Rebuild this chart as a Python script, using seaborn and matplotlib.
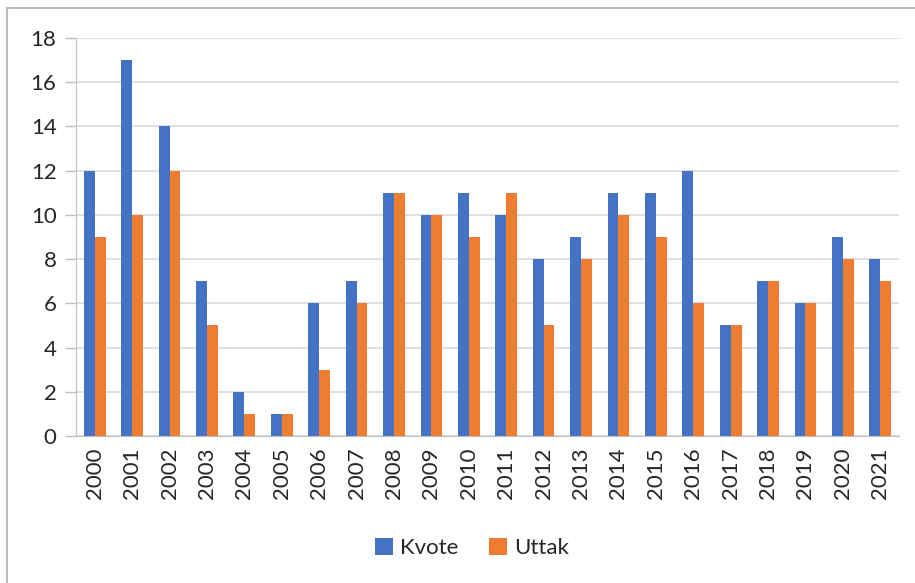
import numpy as np
import pandas as pd
import seaborn as sns
import matplotlib.pyplot as plt
from matplotlib.patches import Rectangle

years = [str(y) for y in range(2000, 2022)]
kvote = [12, 17, 14, 7, 2, 1, 6, 7, 11, 10, 11, 10, 8, 9, 11, 11, 12, 5, 7, 6, 9, 8]
uttak = [9, 10, 12, 5, 1, 1, 3, 6, 11, 10, 9, 11, 5, 8, 10, 9, 6, 5, 7, 6, 8, 7]

df = pd.DataFrame({'År': years * 2,
                   'Antall': kvote + uttak,
                   'Serie': ['Kvote'] * len(years) + ['Uttak'] * len(years)})

sns.set_style("white")
plt.rcParams['font.family'] = ['Lato', 'DejaVu Sans']

fig = plt.figure(figsize=(9.15, 5.83), dpi=100)
ax = fig.add_axes([76 / 915, 1 - 436 / 583, (899 - 76) / 915, (436 - 38) / 583])

sns.barplot(data=df, x='År', y='Antall', hue='Serie',
            palette=['#4472C4', '#ED7D31'], width=0.58, saturation=1,
            linewidth=0, ax=ax)

ax.set_ylim(0, 18)
ax.set_yticks(range(0, 19, 2))
ax.set_xlim(-0.5, len(years) - 0.5)
ax.yaxis.grid(True, color='#D9D9D9', linewidth=1.2)
ax.set_axisbelow(True)
ax.set_xlabel('')
ax.set_ylabel('')

for s in ['top', 'right']:
    ax.spines[s].set_visible(False)
ax.spines['left'].set_color('#BFBFBF')
ax.spines['bottom'].set_color('#BFBFBF')

# category separators as tick marks, like Excel
ax.set_xticks(np.arange(-0.5, len(years), 1), minor=True)
ax.tick_params(axis='x', which='minor', length=8, color='#BFBFBF', width=1)
ax.tick_params(axis='x', which='major', length=0, labelsize=16, rotation=90, pad=8)
ax.tick_params(axis='y', length=8, color='#BFBFBF', width=1, labelsize=16, pad=6)
ax.tick_params(axis='y', left=True)

handles, labels = ax.get_legend_handles_labels()
ax.legend(handles, labels, loc='center', bbox_to_anchor=(472 / 915, 1 - 548 / 583),
          bbox_transform=fig.transFigure, ncol=2, frameon=False, fontsize=16,
          handlelength=0.8, handleheight=0.8, handletextpad=0.3, columnspacing=1.4)

fig.patches.append(Rectangle((6.5 / 915, -0.1), 1.2, 1.1 - 8 / 583,
                             transform=fig.transFigure, fill=False,
                             edgecolor='#BFBFBF', linewidth=1.5))

fig.savefig('out.png', dpi=100)
